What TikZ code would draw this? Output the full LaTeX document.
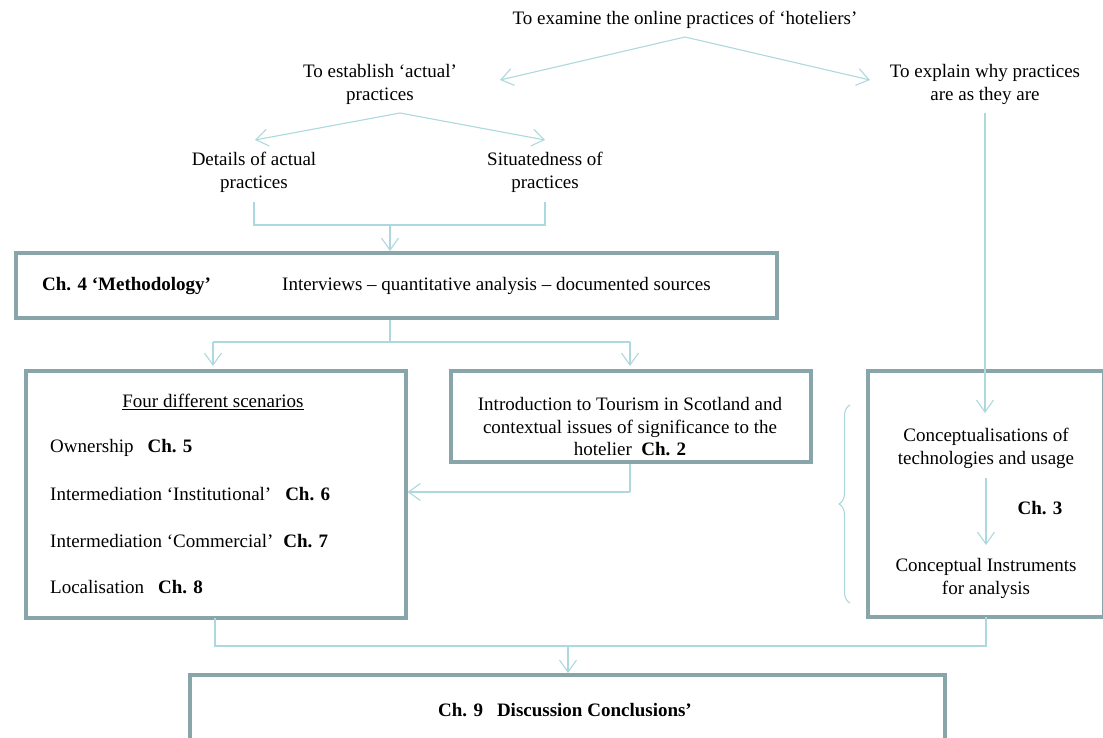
\documentclass[tikz,border=0pt]{standalone}
\usepackage{fontspec}
\setmainfont{Liberation Serif}
\usetikzlibrary{arrows.meta,decorations.pathreplacing}
\definecolor{conn}{RGB}{172,216,222}
\definecolor{boxc}{RGB}{136,166,170}
\tikzset{
  conn/.style={draw=conn, line width=1.1pt},
  arr/.style={conn, -{Straight Barb[length=12pt,width=17pt,line width=1.1pt]}},
  frame/.style={draw=boxc, line width=3.5pt, minimum width=#1, anchor=north west, inner sep=0pt},
  txt/.style={align=center, inner sep=1pt, font=\fontsize{19}{23}\selectfont},
  ltxt/.style={anchor=west, inner sep=0pt, font=\fontsize{19}{23}\selectfont},
}
\begin{document}
\begin{tikzpicture}[x=1pt,y=-1pt]
\useasboundingbox (0,0) rectangle (1103,738);
% top texts
\node[txt] (top) at (685,20) {To examine the online practices of ‘hoteliers’};
\node[txt] (est) at (380,84) {To establish ‘actual’\\practices};
\node[txt] (expl) at (985,84) {To explain why practices\\are as they are};
\node[txt] (det) at (254,172) {Details of actual\\practices};
\node[txt] (sit) at (545,172) {Situatedness of\\practices};
% arrows top
\coordinate (topb) at (685,37);
\draw[arr] (topb) -- (500,80);
\draw[arr] (topb) -- (870,80);
\coordinate (estb) at (400,113);
\draw[arr] (estb) -- (255,140);
\draw[arr] (estb) -- (545,140);
% merge to methodology
\coordinate (j1) at (390,225);
\draw[conn] (254,202) -- (254,225) -- (545,225) -- (545,202);
% methodology box
\node[frame=761pt, minimum height=65pt] (meth) at (14,251) {};
\draw[arr] (j1) -- (meth.north -| j1);
\node[ltxt, font=\fontsize{19}{23}\selectfont\bfseries] (ch4) at (42,286) {Ch. 4 ‘Methodology’};
\node[ltxt] (intv) at (282,286) {Interviews – quantitative analysis – documented sources};
% left box
\node[frame=380pt, minimum height=247pt] (left) at (24,369) {};
\node[txt] (four) at (213,402) {\underline{Four different scenarios}};
\node[ltxt] (own) at (50,448) {Ownership\hspace{14pt}\textbf{Ch. 5}};
\node[ltxt] (inst) at (50,494) {Intermediation ‘Institutional’\hspace{14pt}\textbf{Ch. 6}};
\node[ltxt] (comm) at (50,541) {Intermediation ‘Commercial’\hspace{10pt}\textbf{Ch. 7}};
\node[ltxt] (loc) at (50,587) {Localisation\hspace{14pt}\textbf{Ch. 8}};
% middle box
\node[frame=360pt, minimum height=91pt] (mid) at (449,369) {};
\node[txt, font=\fontsize{19}{22.5}\selectfont] (midt) at (630,427) {Introduction to Tourism in Scotland and\\contextual issues of significance to the\\hotelier\ \ \textbf{Ch. 2}};
% from methodology to boxes
\coordinate (mb) at (390,342);
\draw[conn] (meth.south -| mb) -- (mb);
\draw[arr] (213,342) -- (213,366);
\draw[arr] (630,342) -- (630,366);
\draw[conn] (213,342) -- (630,342);
% mid to left
\coordinate (mj) at (630,492);
\draw[conn] (mid.south -| mj) -- (mj);
\draw[arr] (mj) -- (mj -| left.east);
% right box
\node[frame=236pt, minimum height=246pt] (right) at (866,369) {};
\node[txt] (concept) at (986,448) {Conceptualisations of\\technologies and usage};
\node[txt] (instr) at (986,578) {Conceptual Instruments\\for analysis};
\node[txt, font=\fontsize{19}{23}\selectfont\bfseries] (ch3) at (1040,508) {Ch. 3};
\draw[arr] (985,113) -- (985,413);
\draw[arr] (986,478) -- (986,545);
% brace
\draw[conn, decorate, decoration={brace, amplitude=11pt}] (850,603) -- (850,405);
% bottom merge
\coordinate (bj) at (568,646);
\draw[conn] (215,618) -- (215,646) -- (986,646) -- (986,617);
% bottom box
\draw[draw=boxc, line width=3.5pt] (190,745) -- (190,675) -- (945,675) -- (945,745);
\draw[arr] (bj) -- (568,673);
\node[txt, font=\fontsize{19}{23}\selectfont\bfseries] (ch9) at (565,710) {Ch. 9\hspace{14pt}Discussion Conclusions’};
\end{tikzpicture}
\end{document}
